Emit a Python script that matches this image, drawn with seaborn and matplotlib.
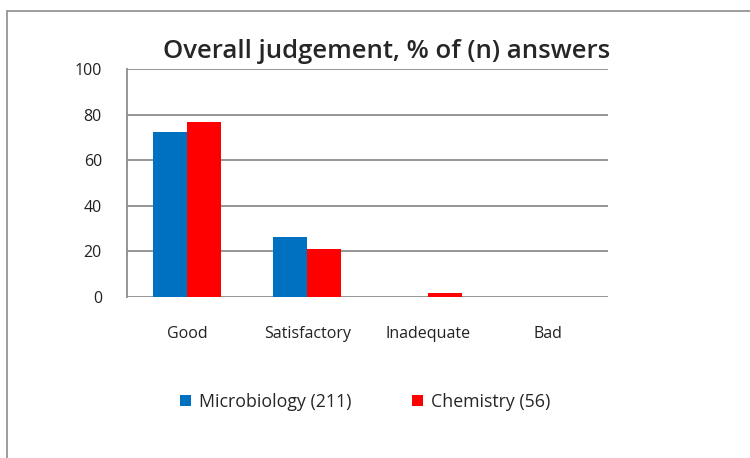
import pandas as pd
import numpy as np
import matplotlib
matplotlib.use('Agg')
import matplotlib.pyplot as plt
import seaborn as sns
from matplotlib.patches import Rectangle

categories = ['Good', 'Satisfactory', 'Inadequate', 'Bad']
microbiology = [72.5, 26.5, 0, 0]
chemistry = [76.6, 20.9, 1.6, 0]
series_names = ['Microbiology (211)', 'Chemistry (56)']

df = pd.DataFrame({
    'Judgement': categories * 2,
    'Percent': microbiology + chemistry,
    'Group': [series_names[0]] * 4 + [series_names[1]] * 4,
})

sns.set_style("white")
plt.rcParams['font.family'] = ['Open Sans', 'DejaVu Sans']

fig = plt.figure(figsize=(7.5, 4.58), dpi=100)
ax = fig.add_axes([0.1693, 0.3515, 0.6413, 0.4978])

sns.barplot(x='Judgement', y='Percent', hue='Group', data=df, ax=ax,
            palette=['#0070C0', '#FF0000'], width=0.565, saturation=1,
            edgecolor='none', legend=True)

ax.set_ylim(0, 100)
ax.set_yticks(range(0, 101, 20))
ax.yaxis.grid(True, color='#8c8c8c', linewidth=1.3)
ax.set_axisbelow(True)
for s in ['top', 'right', 'bottom']:
    ax.spines[s].set_visible(False)
ax.spines['left'].set_color('#8c8c8c')
ax.spines['left'].set_linewidth(1.3)
ax.set_xlabel('')
ax.set_ylabel('')
ax.tick_params(axis='x', length=0, pad=21, labelsize=11.5, colors='#222222')
ax.tick_params(axis='y', length=0, pad=18, labelsize=11.5, colors='#222222')

ax.set_title('Overall judgement, % of (n) answers', fontsize=18.5,
             fontweight='semibold', pad=8, x=0.54)

handles, labels = ax.get_legend_handles_labels()
ax.legend(handles, labels, loc='center', bbox_to_anchor=(0.495, -0.46),
          ncol=2, frameon=False, fontsize=12.8, handlelength=0.6,
          handleheight=0.6, columnspacing=3.4, handletextpad=0.45)

# chart border
fig.patches.append(Rectangle((7 / 750, -0.1), 1.2, 1 - 11 / 458 + 0.1,
                             transform=fig.transFigure, fill=False,
                             edgecolor='#8c8c8c', linewidth=1.2))

plt.savefig('out.png', dpi=100)
